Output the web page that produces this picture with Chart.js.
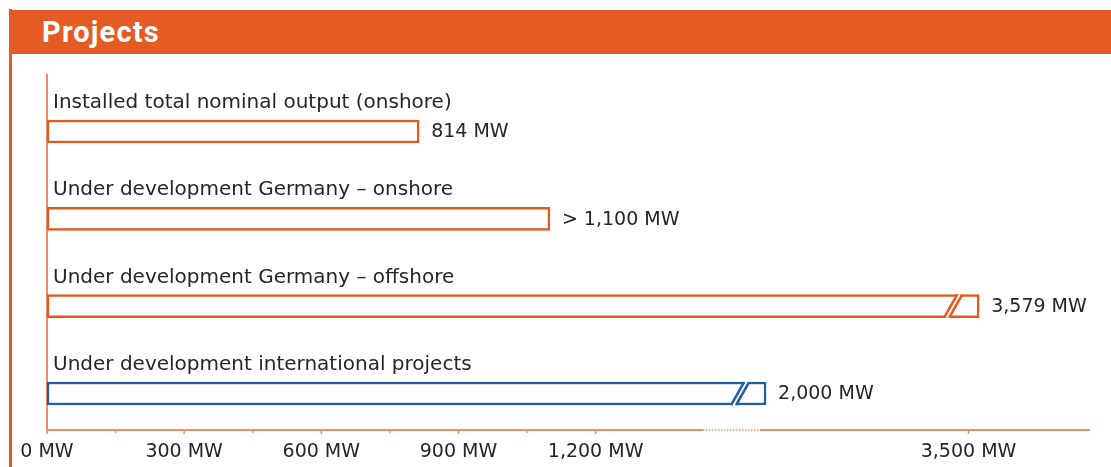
<!DOCTYPE html>
<html><head><meta charset="utf-8">
<script src="https://cdn.jsdelivr.net/npm/chart.js@4.4.1/dist/chart.umd.min.js"></script>
<style>
html,body{margin:0;padding:0;background:#fff;width:1111px;height:467px;overflow:hidden;font-family:Roboto,sans-serif}
#wrap{position:absolute;left:0;top:0;width:1111px;height:467px}
#frame{position:absolute;left:9px;top:9px;width:3px;height:458px;background:#e45c24}
#header{position:absolute;left:10px;top:10px;width:1101px;height:44px;background:#e45c24;color:#fff;font-weight:bold;font-size:29px;font-family:Roboto,sans-serif;line-height:45px;box-sizing:border-box;padding-left:32px;letter-spacing:1.2px}
</style></head><body>
<div id="wrap"><canvas id="c" width="1111" height="467"></canvas></div>
<div id="frame"></div><div id="header">Projects</div>
<script>
// ---- data ----
const categories = [
  "Installed total nominal output (onshore)",
  "Under development Germany \u2013 onshore",
  "Under development Germany \u2013 offshore",
  "Under development international projects"
];
const values = [814, 1100, 3579, 2000];
const valueLabels = ["814 MW", "> 1,100 MW", "3,579 MW", "2,000 MW"];
const tickValues = [0, 150, 300, 450, 600, 750, 900, 1050, 1200, 3500];
const labeledTicks = [0, 300, 600, 900, 1200, 3500];
const axisBreak = [1435, 1955];   // value range hidden by the axis break
const axisMax = 4400;

// ---- styles ----
const ORANGE = '#e4581e', BLUE = '#1f5ca8', AXIS = '#ec8d69', TEXT = '#262626';
const FONT = '"DejaVu Sans", sans-serif';
const barColors = [ORANGE, ORANGE, ORANGE, BLUE];
const breakFrac = [0.629, 0.6836]; // share of axis width at break start / end

// Broken linear scale: piecewise linear mapping with a compressed break
class BrokenScale extends Chart.LinearScale {
  _knots() {
    return {
      v: [this.min, axisBreak[0], axisBreak[1], this.max],
      f: [0, breakFrac[0], breakFrac[1], 1]
    };
  }
  getPixelForValue(value) {
    const {v, f} = this._knots();
    let i = 0;
    while (i < v.length - 2 && value > v[i + 1]) i++;
    const t = (value - v[i]) / (v[i + 1] - v[i]);
    const frac = f[i] + t * (f[i + 1] - f[i]);
    return this.left + frac * this.width;
  }
  getValueForPixel(pixel) {
    const {v, f} = this._knots();
    const frac = (pixel - this.left) / this.width;
    let i = 0;
    while (i < f.length - 2 && frac > f[i + 1]) i++;
    const t = (frac - f[i]) / (f[i + 1] - f[i]);
    return v[i] + t * (v[i + 1] - v[i]);
  }
}
BrokenScale.id = 'broken';
BrokenScale.defaults = Chart.LinearScale.defaults;
Chart.register(BrokenScale);

const axisPlugin = {
  id: 'axes',
  beforeDatasetsDraw(chart) {
    const {ctx, chartArea} = chart;
    const x = chart.scales.x;
    const axisY = chartArea.bottom - 7.2;
    const b0 = x.getPixelForValue(axisBreak[0]);
    const b1 = x.getPixelForValue(axisBreak[1]);
    ctx.save();
    ctx.strokeStyle = AXIS;
    ctx.lineWidth = 2;
    ctx.beginPath();
    ctx.moveTo(chartArea.left, 74);
    ctx.lineTo(chartArea.left, axisY + 1);
    ctx.stroke();
    ctx.beginPath();
    ctx.moveTo(chartArea.left, axisY);
    ctx.lineTo(b0, axisY);
    ctx.moveTo(b1, axisY);
    ctx.lineTo(chartArea.right, axisY);
    ctx.stroke();
    ctx.setLineDash([1.5, 1.5]);
    ctx.lineWidth = 1.5;
    ctx.beginPath();
    ctx.moveTo(b0, axisY);
    ctx.lineTo(b1, axisY);
    ctx.stroke();
    ctx.setLineDash([]);
    ctx.lineWidth = 1.5;
    x.ticks.forEach(t => {
      const px = x.getPixelForValue(t.value);
      const len = labeledTicks.includes(t.value) ? 4 : 3;
      ctx.beginPath();
      ctx.moveTo(px, axisY);
      ctx.lineTo(px, axisY + len);
      ctx.stroke();
    });
    ctx.restore();
  }
};

const labelPlugin = {
  id: 'barLabels',
  afterDatasetsDraw(chart) {
    const {ctx, chartArea} = chart;
    const meta = chart.getDatasetMeta(0);
    ctx.save();
    meta.data.forEach((bar, i) => {
      const h = bar.height;
      const top = bar.y - h / 2, bottom = bar.y + h / 2;
      const end = bar.x;
      if (values[i] > axisBreak[0]) {
        const c = barColors[i];
        ctx.fillStyle = '#ffffff';
        ctx.beginPath();
        ctx.moveTo(end - 34, bottom);
        ctx.lineTo(end - 21, top);
        ctx.lineTo(end - 17, top);
        ctx.lineTo(end - 30, bottom);
        ctx.closePath();
        ctx.fill();
        ctx.strokeStyle = c;
        ctx.lineWidth = 2.5;
        ctx.beginPath();
        ctx.moveTo(end - 35, bottom);
        ctx.lineTo(end - 22, top);
        ctx.moveTo(end - 30, bottom);
        ctx.lineTo(end - 17, top);
        ctx.stroke();
      }
      ctx.fillStyle = TEXT;
      ctx.textBaseline = 'alphabetic';
      ctx.textAlign = 'left';
      ctx.font = '20px ' + FONT;
      ctx.fillText(categories[i], chartArea.left + 6, top - 12);
      ctx.font = '19px ' + FONT;
      ctx.textBaseline = 'middle';
      ctx.fillText(valueLabels[i], end + 12, bar.y + 1);
    });
    ctx.restore();
  }
};

new Chart(document.getElementById('c'), {
  type: 'bar',
  data: {
    labels: categories,
    datasets: [{
      data: values,
      backgroundColor: '#ffffff',
      borderColor: barColors,
      borderWidth: 2.5,
      borderSkipped: false,
      barThickness: 23
    }]
  },
  options: {
    indexAxis: 'y',
    responsive: false,
    animation: false,
    events: [],
    layout: {padding: {left: 47, right: 21, top: 87.8, bottom: 4}},
    plugins: {legend: {display: false}, tooltip: {enabled: false}},
    scales: {
      y: {type: 'category', display: false, offset: true},
      x: {
        type: 'broken',
        min: 0,
        max: axisMax,
        afterBuildTicks: s => { s.ticks = tickValues.map(v => ({value: v})); },
        afterFit: s => { s.height = 25.8; },
        grid: {display: false, drawTicks: false},
        border: {display: false},
        ticks: {
          autoSkip: false,
          maxRotation: 0,
          padding: 3,
          color: TEXT,
          font: {family: FONT, size: 19},
          callback: v => labeledTicks.includes(v) ? v.toLocaleString('en-US') + ' MW' : ''
        }
      }
    }
  },
  plugins: [axisPlugin, labelPlugin]
});
</script>
</body></html>
